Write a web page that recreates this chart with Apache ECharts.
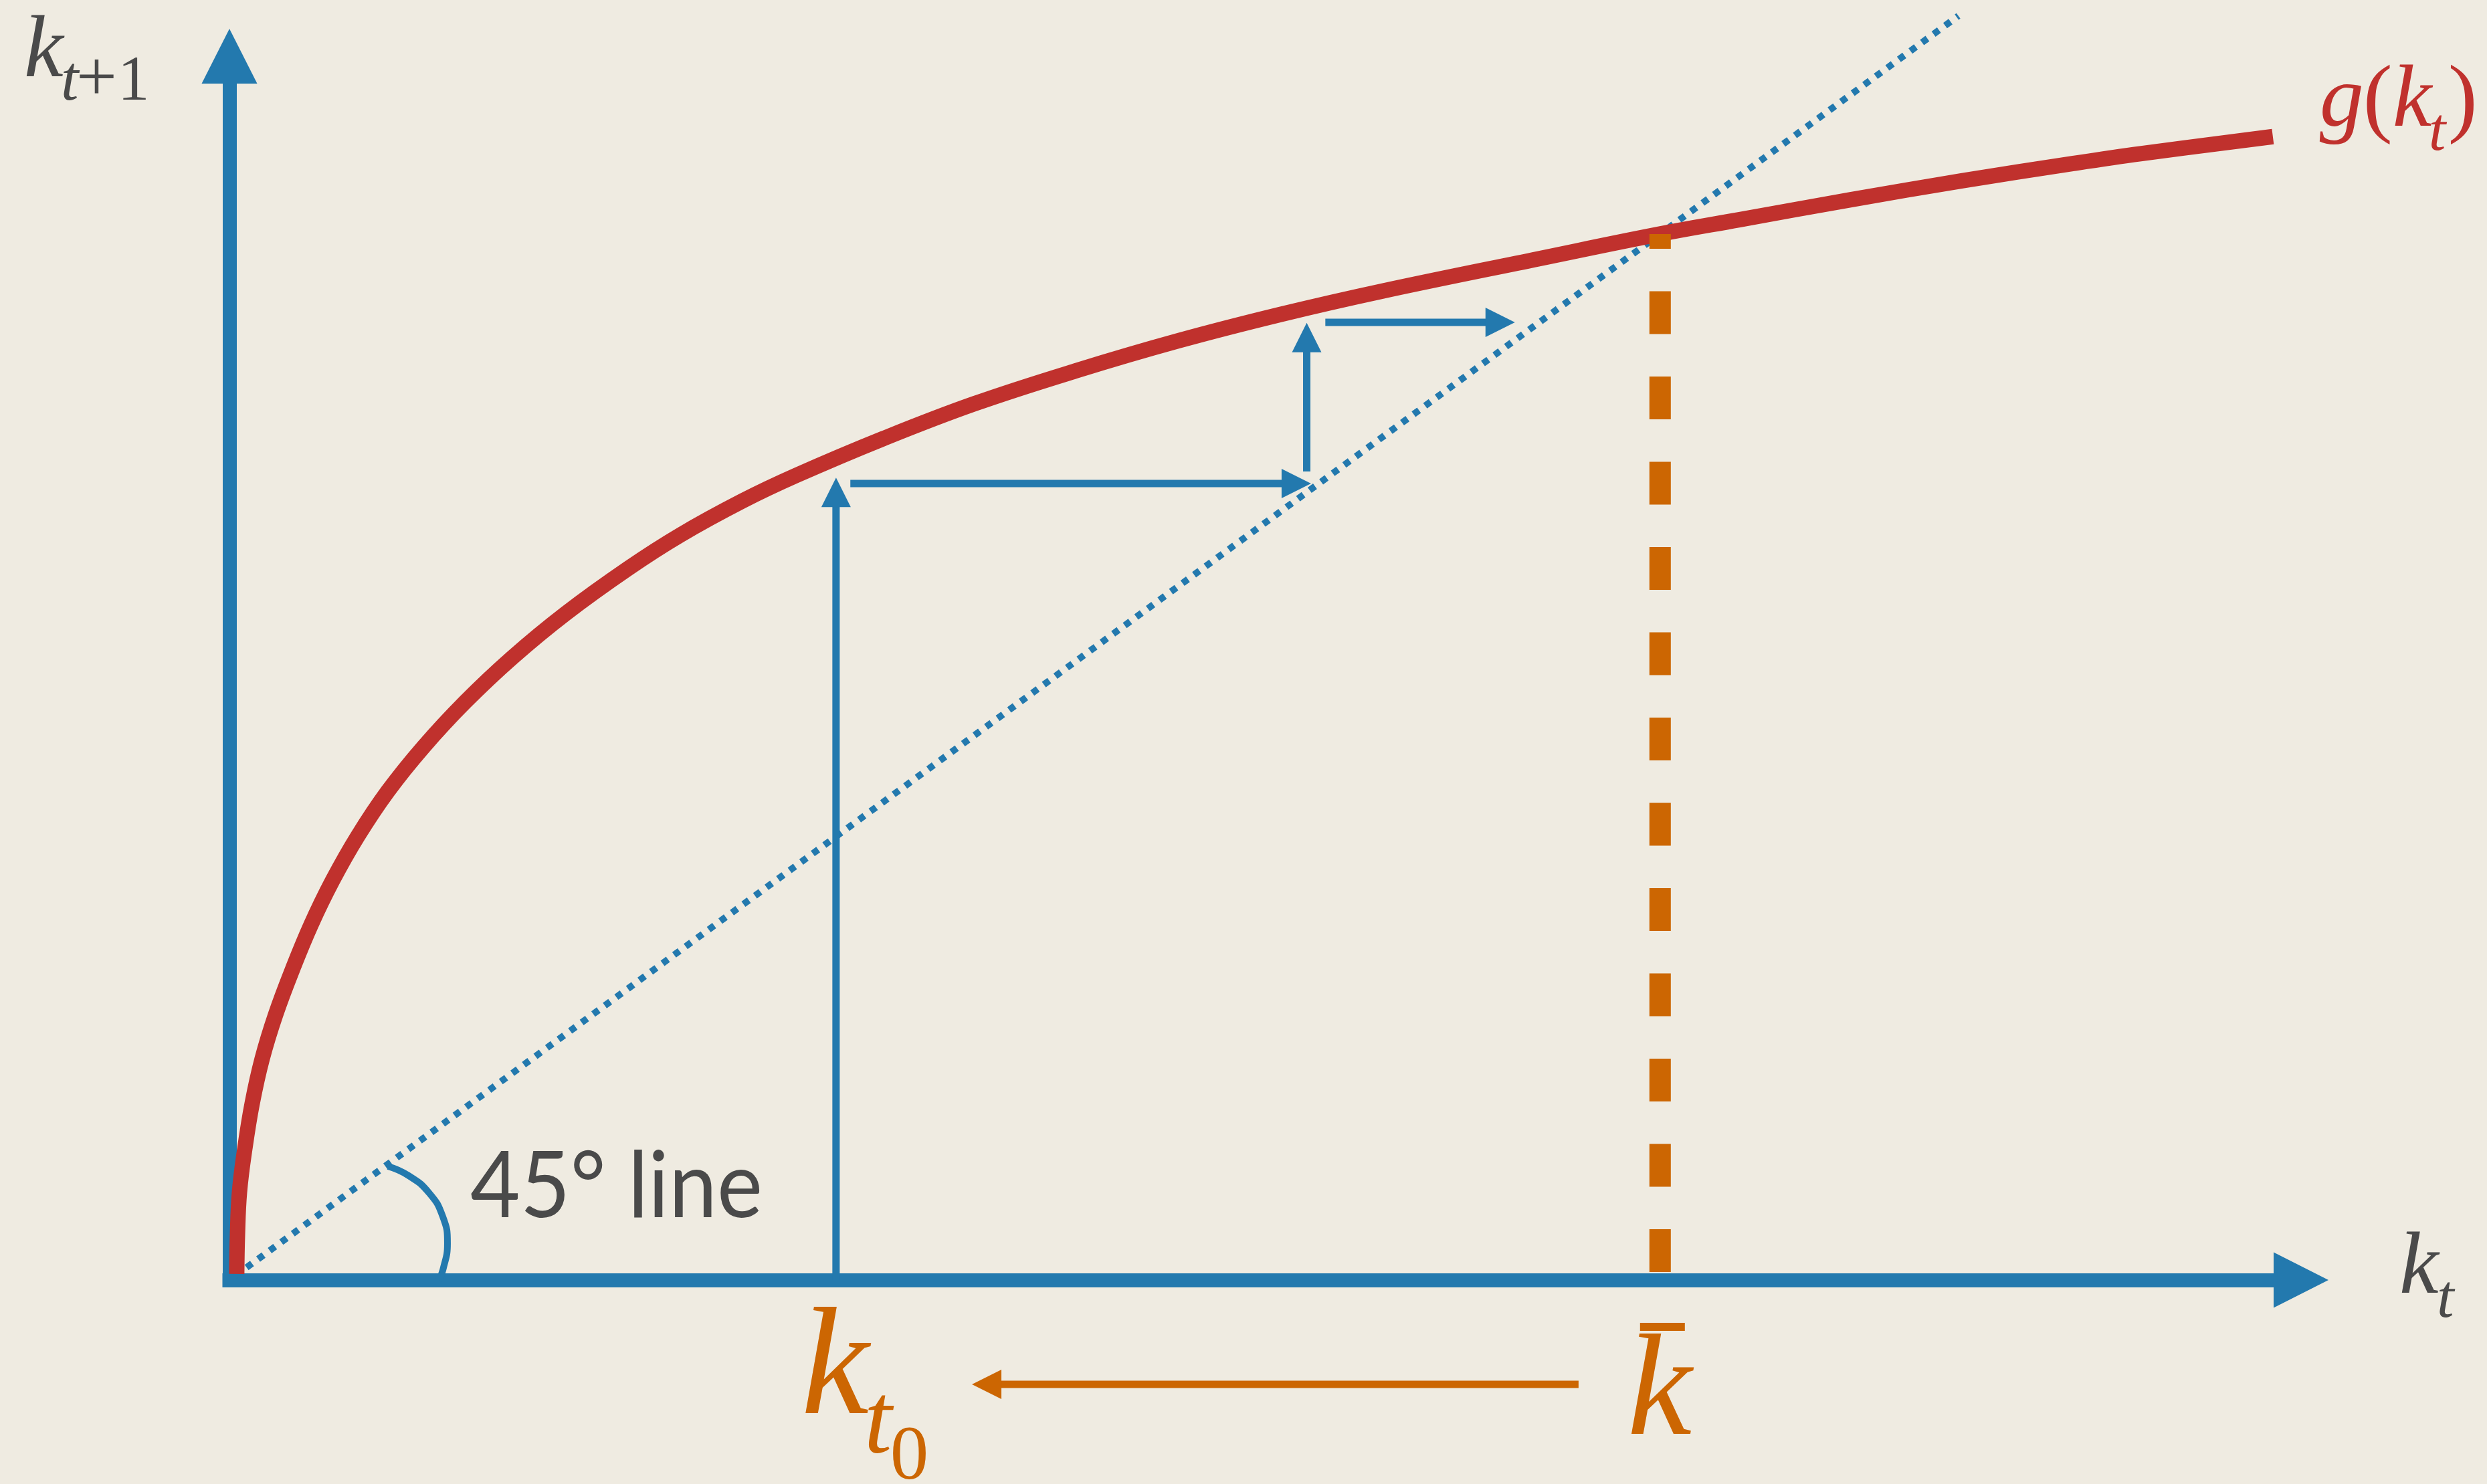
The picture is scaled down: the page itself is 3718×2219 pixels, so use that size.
<!DOCTYPE html>
<html>
<head>
<meta charset="utf-8">
<title>Capital accumulation: k(t+1) = g(k(t))</title>
<script src="https://cdn.jsdelivr.net/npm/echarts@6.0.0/dist/echarts.min.js"></script>
<style>
  html, body { margin: 0; padding: 0; background: #efebe1; }
  #chart { width: 3718px; height: 2219px; }
</style>
</head>
<body>
<div id="chart"></div>
<script>
// ---- values (model units: k̄ = 1) ----
const kSteady = 1.0;    // steady state k̄, where g(k) meets the 45° line
const kStart = 0.424;   // starting capital k_t0

// accumulation function g(k_t), traced point by point
const curveK = [0.0051, 0.0056, 0.0070, 0.0108, 0.0159, 0.0229, 0.0323, 0.0440, 0.0570, 0.0720,
                0.0898, 0.1108, 0.1356, 0.1646, 0.1978, 0.2352, 0.2787, 0.3151, 0.3586, 0.3960,
                0.4568, 0.5204, 0.5923, 0.6635, 0.7350, 0.8065, 0.9150, 1.0000, 1.0552, 1.1333,
                1.2109, 1.2889, 1.3357, 1.4283];
const curveG = [0.0058, 0.0428, 0.0838, 0.1260, 0.1688, 0.2116, 0.2538, 0.2967, 0.3395, 0.3817,
                0.4245, 0.4674, 0.5096, 0.5524, 0.5952, 0.6374, 0.6803, 0.7122, 0.7448, 0.7691,
                0.8043, 0.8376, 0.8695, 0.8980, 0.9232, 0.9456, 0.9763, 1.0000, 1.0136, 1.0328,
                1.0508, 1.0674, 1.0767, 1.0931];

// 45° line k_{t+1} = k_t
const diagonalK = [0, 1.2085];

// small arc marking the 45° angle
const arcK = [0.1108, 0.1251, 0.1396, 0.1491, 0.1524, 0.1492, 0.1463];
const arcY = [0.1087, 0.0999, 0.0832, 0.0607, 0.0352, 0.0096, 0.0];

// cobweb steps: [k from, k_{t+1} from, k to, k_{t+1} to]
const cobwebArrows = [
  [0.424, 0.0,    0.424,  0.767],
  [0.434, 0.7615, 0.756,  0.7615],
  [0.753, 0.773,  0.753,  0.915],
  [0.766, 0.9156, 0.8985, 0.9156]
];

// arrow under the axis pointing from k̄ back toward k_t0
const convergenceArrow = [0.943, -0.0997, 0.519, -0.0997];

// axis extents
const xMax = 1.448;
const yMax = 1.17;

// ---- styling ----
const BLUE = '#2379ae';
const RED = '#c0312d';
const ORANGE = '#cc6602';
const GRAY = '#4a4a4a';
const SERIF = '"Liberation Serif", "Times New Roman", serif';
const SANS = 'Lato, "Open Sans", sans-serif';

const pairs = (xs, ys) => xs.map((x, i) => [x, ys[i]]);

// straight arrow with a triangular head, drawn from data coordinates
function arrowItem(params, api) {
  const a = api.coord([api.value(0), api.value(1)]);
  const b = api.coord([api.value(2), api.value(3)]);
  const dx = b[0] - a[0], dy = b[1] - a[1];
  const len = Math.hypot(dx, dy);
  const ux = dx / len, uy = dy / len;
  const head = 44, half = 22;
  const bx = b[0] - ux * head, by = b[1] - uy * head;
  const color = api.visual('color');
  return {
    type: 'group',
    children: [
      { type: 'line', silent: true,
        shape: { x1: a[0], y1: a[1], x2: bx + ux * 2, y2: by + uy * 2 },
        style: { stroke: color, lineWidth: 11, lineCap: 'butt' } },
      { type: 'polygon', silent: true,
        shape: { points: [[b[0], b[1]], [bx - uy * half, by + ux * half], [bx + uy * half, by - ux * half]] },
        style: { fill: color } }
    ]
  };
}

// text piece placed by its alphabetic baseline
function txt(text, x, baseline, size, color, opts) {
  opts = opts || {};
  const mid = opts.mid != null ? opts.mid : 0.3375;
  const el = {
    type: 'text', silent: true,
    style: {
      text: text, x: x, y: baseline - mid * size,
      fontSize: size, fontFamily: opts.family || SERIF,
      fontStyle: opts.italic ? 'italic' : 'normal',
      fill: color, align: 'left', verticalAlign: 'middle'
    }
  };
  if (opts.scaleX) {
    el.scaleX = opts.scaleX;
    el.originX = x;
    el.originY = baseline;
  }
  return el;
}

function labelsItem(params, api) {
  const o = api.coord([0, 0]);
  const xe = api.coord([xMax, 0]);
  const ye = api.coord([0, yMax]);
  const k0 = api.coord([kStart, 0]);
  const kb = api.coord([kSteady, 0]);
  const n = curveK.length - 1;
  const ge = api.coord([curveK[n], curveG[n]]);
  return {
    type: 'group',
    children: [
      // horizontal axis title: k_t
      txt('k', xe[0] + 147, o[1] + 29, 132, GRAY, { italic: true }),
      txt('t', xe[0] + 203, o[1] + 62, 92, GRAY, { italic: true }),
      // vertical axis title: k_{t+1}
      txt('k', ye[0] - 307, ye[1] + 40, 132, GRAY, { italic: true }),
      txt('t', ye[0] - 252, ye[1] + 72, 95, GRAY, { italic: true }),
      txt('+', ye[0] - 229, ye[1] + 74, 108, GRAY),
      txt('1', ye[0] - 167, ye[1] + 72, 95, GRAY),
      // curve name: g(k_t)
      txt('g', ge[0] + 70, ge[1] - 6, 132, RED, { italic: true }),
      txt('(', ge[0] + 135, ge[1] - 6, 132, RED),
      txt('k', ge[0] + 179, ge[1] - 6, 132, RED, { italic: true }),
      txt('t', ge[0] + 233, ge[1] + 27, 92, RED, { italic: true }),
      txt(')', ge[0] + 262, ge[1] - 6, 132, RED),
      // angle note
      txt('45° line', o[0] + 360, o[1] - 85, 137, GRAY, { family: SANS, mid: 0.387, scaleX: 0.94 }),
      // k_t0 under the axis
      txt('k', k0[0] - 52, o[1] + 216, 228, ORANGE, { italic: true }),
      txt('t', k0[0] + 42, o[1] + 269, 150, ORANGE, { italic: true }),
      txt('0', k0[0] + 81, o[1] + 306, 115, ORANGE),
      // k̄ under the axis
      { type: 'rect', silent: true,
        shape: { x: kb[0] - 30, y: o[1] + 64, width: 67, height: 12 },
        style: { fill: ORANGE } },
      txt('k', kb[0] - 49, o[1] + 246, 217, ORANGE, { italic: true })
    ]
  };
}

const axisCommon = {
  type: 'value',
  min: 0,
  axisLine: {
    show: true,
    onZero: false,
    symbol: ['none', 'triangle'],
    symbolSize: [83, 82],
    lineStyle: { color: BLUE, width: 21, cap: 'square' }
  },
  axisTick: { show: false },
  axisLabel: { show: false },
  splitLine: { show: false }
};

const chart = echarts.init(document.getElementById('chart'), null, { renderer: 'canvas' });
chart.setOption({
  backgroundColor: '#efebe1',
  animation: false,
  grid: { left: 343, top: 84, width: 3097, height: 1830, containLabel: false },
  xAxis: Object.assign({}, axisCommon, { max: xMax }),
  yAxis: Object.assign({}, axisCommon, { max: yMax }),
  series: [
    {
      name: '45° line', type: 'line', clip: false, silent: true,
      data: pairs(diagonalK, diagonalK),
      symbol: 'none', showSymbol: false, z: 2,
      lineStyle: { color: BLUE, width: 10, type: [10, 11.4], dashOffset: 11, cap: 'butt' }
    },
    {
      name: 'g(k_t)', type: 'line', clip: false, silent: true,
      data: pairs(curveK, curveG),
      smooth: 0.4,
      symbol: 'none', showSymbol: false, z: 3,
      lineStyle: { color: RED, width: 23, cap: 'butt', join: 'round' }
    },
    {
      name: 'k̄', type: 'line', clip: false, silent: true,
      data: [[kSteady, 0], [kSteady, kSteady]],
      symbol: 'none', showSymbol: false, z: 4,
      lineStyle: { color: ORANGE, width: 32, type: [64, 63.5], dashOffset: 115.5, cap: 'butt' }
    },
    {
      name: 'angle', type: 'line', clip: false, silent: true,
      data: pairs(arcK, arcY),
      smooth: 0.5,
      symbol: 'none', showSymbol: false, z: 4,
      lineStyle: { color: BLUE, width: 10, cap: 'butt', join: 'round' }
    },
    {
      name: 'cobweb', type: 'custom', clip: false, silent: true,
      data: cobwebArrows,
      encode: { x: [0, 2], y: [1, 3] },
      itemStyle: { color: BLUE },
      renderItem: arrowItem, z: 5
    },
    {
      name: 'convergence', type: 'custom', clip: false, silent: true,
      data: [convergenceArrow],
      encode: { x: [0, 2], y: [1, 3] },
      itemStyle: { color: ORANGE },
      renderItem: arrowItem, z: 5
    },
    {
      name: 'labels', type: 'custom', clip: false, silent: true,
      data: [[0, 0]],
      encode: { x: 0, y: 1 },
      renderItem: labelsItem, z: 6
    }
  ]
});
</script>
</body>
</html>
